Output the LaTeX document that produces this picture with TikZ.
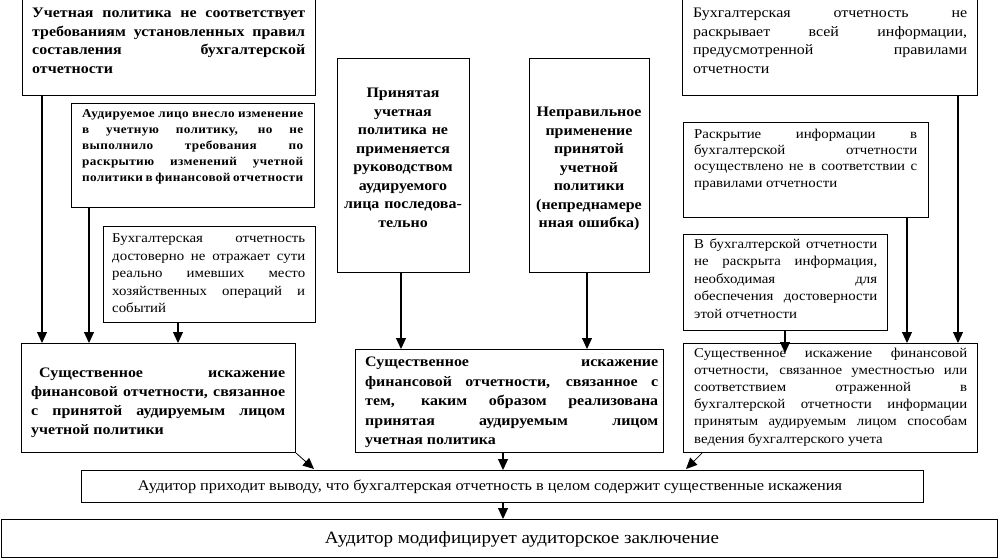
\documentclass[tikz,border=0pt]{standalone}
\usepackage{fontspec}
\setmainfont{Liberation Serif}[FakeStretch=1.1]
\newfontfamily\spacedbold{Liberation Serif Bold}[FakeStretch=1.1,LetterSpace=3]
\usetikzlibrary{arrows.meta}
\tikzset{
  box/.style={draw, line width=1.1pt, inner sep=0pt, anchor=north west},
  txt/.style={inner sep=0pt, anchor=north west, align=justify},
  ctxt/.style={inner sep=0pt, anchor=north, align=center},
  arr/.style={line width=1.1pt, -{Triangle[width=10pt,length=11pt]}},
  thinarr/.style={line width=0.8pt, -{Triangle[width=10pt,length=11pt]}},
  fbold/.style={font=\bfseries\fontsize{14.5}{18.5}\selectfont},
  freg/.style={font=\fontsize{13.5}{17.5}\selectfont},
}
\begin{document}
\begin{tikzpicture}[x=1pt,y=-1pt]
\useasboundingbox (0,0) rectangle (998,559);
% boxes
\node[box, minimum width=293, minimum height=96] (b1) at (22,-1) {};
\node[box, minimum width=243, minimum height=104] (b2) at (71,103) {};
\node[box, minimum width=212, minimum height=96] (b3) at (103,226) {};
\node[box, minimum width=274, minimum height=109] (b4) at (21,343) {};
\node[box, minimum width=132, minimum height=214] (b5) at (337,58) {};
\node[box, minimum width=120, minimum height=214] (b6) at (529,58) {};
\node[box, minimum width=308, minimum height=103] (b7) at (355,349) {};
\node[box, minimum width=295, minimum height=96] (b8) at (682,-1) {};
\node[box, minimum width=245, minimum height=95] (b9) at (683,122) {};
\node[box, minimum width=204, minimum height=96] (b10) at (683,234) {};
\node[box, minimum width=294, minimum height=109] (b11) at (683,343) {};
\node[box, minimum width=842, minimum height=32] (b12) at (81,470) {};
\node[box, minimum width=996.4, minimum height=38] (b13) at (0.6,519) {};
% texts
\node[txt, fbold, text width=273] (t1) at (32,8) {Учетная политика не соответствует\linebreak требованиям установленных правил\linebreak составления бухгалтерской\linebreak отчетности};
\node[txt, text width=221, font=\spacedbold\fontsize{12}{16}\selectfont] (t2) at (82,109) {Аудируемое лицо внесло изменение\linebreak в учетную политику, но не\linebreak выполнило требования по\linebreak раскрытию изменений учетной\linebreak политики в финансовой отчетности};
\node[txt, freg, text width=193] (t3) at (112,233.5) {Бухгалтерская отчетность\linebreak достоверно не отражает сути\linebreak реально имевших место\linebreak хозяйственных операций и\linebreak событий};
\node[txt, text width=254, font=\bfseries\fontsize{14.5}{19}\selectfont] (t4) at (31,368) {\hspace*{8pt}Существенное искажение\linebreak финансовой отчетности, связанное\linebreak с принятой аудируемым лицом\linebreak учетной политики};
\node[ctxt, fbold, text width=134] (t5) at (403,88) {Принятая\\ учетная\\ политика не\\ применяется\\ руководством\\ аудируемого\\ лица последова-\\ тельно};
\node[ctxt, fbold, text width=122] (t6) at (589,107) {Неправильное\\ применение\\ принятой\\ учетной\\ политики\\ (непреднамере\\ нная ошибка)};
\node[txt, text width=293, font=\bfseries\fontsize{14.5}{19.5}\selectfont] (t7) at (365,357) {Существенное искажение\linebreak финансовой отчетности, связанное с\linebreak тем, каким образом реализована\linebreak принятая аудируемым лицом\linebreak учетная политика};
\node[txt, text width=274, font=\fontsize{14.5}{18.5}\selectfont] (t8) at (693,8) {Бухгалтерская отчетность не\linebreak раскрывает всей информации,\linebreak предусмотренной правилами\linebreak отчетности};
\node[txt, text width=223, font=\fontsize{13.5}{16.4}\selectfont] (t9) at (694,128.5) {Раскрытие информации в\linebreak бухгалтерской отчетности\linebreak осуществлено не в соответствии с\linebreak правилами отчетности};
\node[txt, freg, text width=183] (t10) at (694,238.5) {В бухгалтерской отчетности\linebreak не раскрыта информация,\linebreak необходимая для\linebreak обеспечения достоверности\linebreak этой отчетности};
\node[txt, text width=273, font=\fontsize{13.5}{17.2}\selectfont] (t11) at (694,347.5) {Существенное искажение финансовой\linebreak отчетности, связанное уместностью или\linebreak соответствием отраженной в\linebreak бухгалтерской отчетности информации\linebreak принятым аудируемым лицом способам\linebreak ведения бухгалтерского учета};
\node[inner sep=0pt, anchor=base, font=\fontsize{14.8}{16}\selectfont] (t12) at (490,490) {Аудитор приходит выводу, что бухгалтерская отчетность в целом содержит существенные искажения};
\node[inner sep=0pt, anchor=base, font=\fontsize{17.3}{20}\selectfont] (t13) at (522,543) {Аудитор модифицирует аудиторское заключение};
% arrows
\draw[arr] (42,0 |- b1.south) -- (42,0 |- b4.north);
\draw[arr] (89,0 |- b2.south) -- (89,0 |- b4.north);
\draw[arr] (178,0 |- b3.south) -- (178,0 |- b4.north);
\draw[arr] (401,0 |- b5.south) -- (401,0 |- b7.north);
\draw[arr] (587,0 |- b6.south) -- (587,0 |- b7.north);
\draw[arr] (958,0 |- b8.south) -- (958,0 |- b11.north);
\draw[arr] (907,0 |- b9.south) -- (907,0 |- b11.north);
\coordinate (e8) at (785,353);
\draw[arr] (785,0 |- b10.south) -- (e8);
\coordinate (e9) at (314,469);
\draw[thinarr] (b4.south east) -- (e9);
\draw[arr] (503,0 |- b7.south) -- (503,0 |- b12.north);
\coordinate (e11) at (686,469);
\draw[thinarr] (702,0 |- b11.south) -- (e11);
\draw[arr] (503,0 |- b12.south) -- (503,0 |- b13.north);
\end{tikzpicture}
\end{document}
